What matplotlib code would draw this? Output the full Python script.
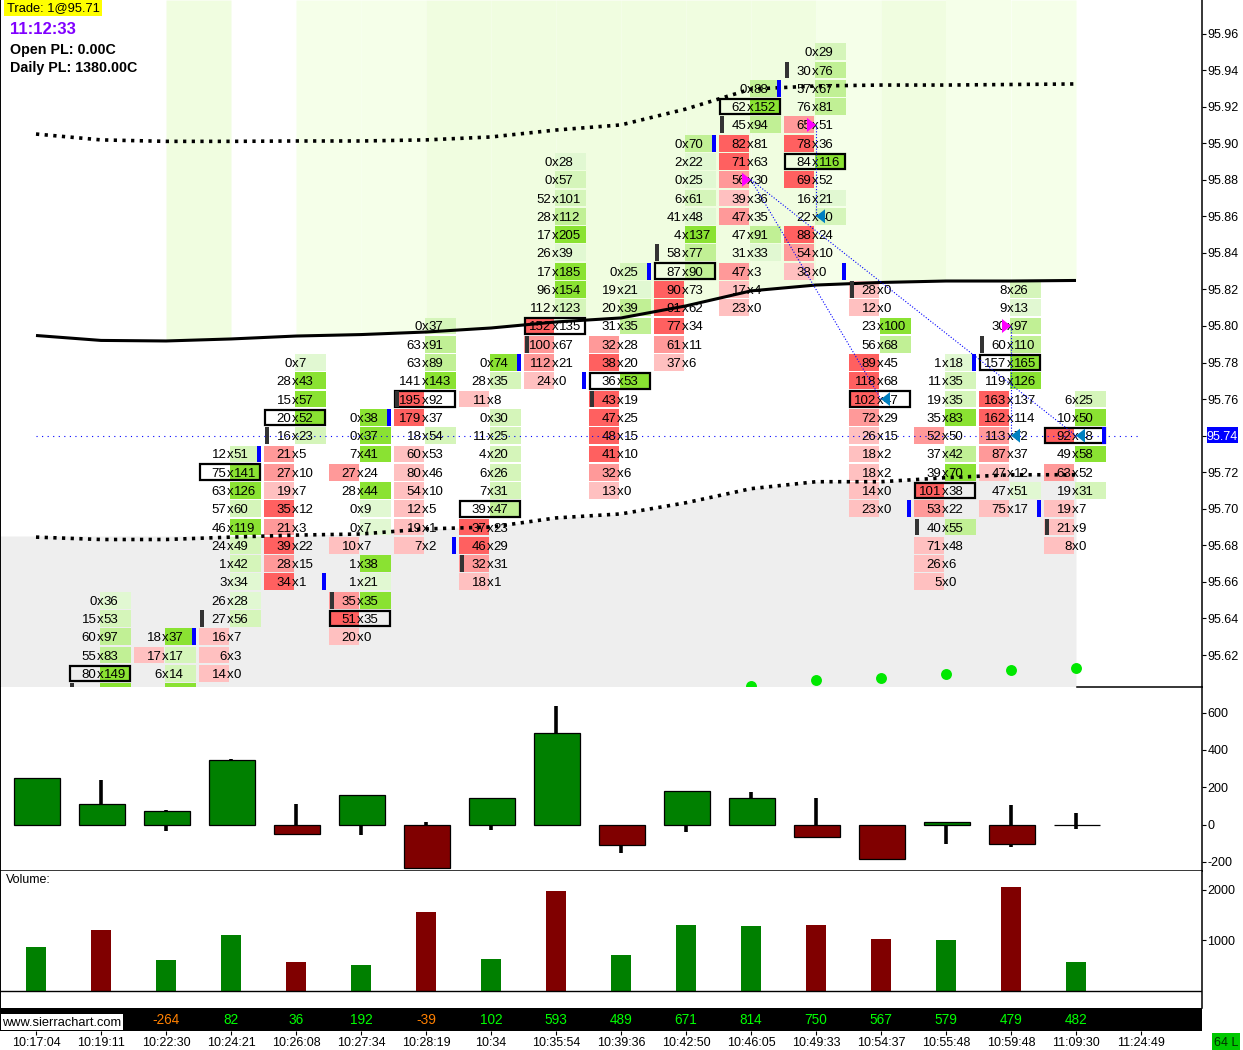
import numpy as np
import matplotlib
matplotlib.use("Agg")
import matplotlib.pyplot as plt
from matplotlib.patches import Rectangle, Polygon

plt.rcParams['font.family'] = ['Liberation Sans', 'DejaVu Sans']
plt.rcParams['axes.unicode_minus'] = False

# ---------- data ----------
times = ['10:17:04','10:19:11','10:22:30','10:24:21','10:26:08','10:27:34','10:28:19','10:34','10:35:54',
         '10:39:36','10:42:50','10:46:05','10:49:33','10:54:37','10:55:48','10:59:48','11:09:30','11:24:49']
price_ticks = [95.96,95.94,95.92,95.90,95.88,95.86,95.84,95.82,95.80,95.78,95.76,95.74,95.72,95.70,95.68,95.66,95.64,95.62]

top_price = {1:95.65,2:95.63,3:95.73,4:95.78,5:95.75,6:95.80,7:95.78,8:95.89,9:95.83,10:95.90,11:95.93,12:95.95,13:95.82,14:95.78,15:95.82,16:95.76}
bid_1=[0,15,60,55,80,60];  ask_1=[36,53,97,83,149,143]
bid_2=[18,17,6,3];  ask_2=[37,17,14,62]
bid_3=[12,75,63,57,46,24,1,3,26,27,16,6,14];  ask_3=[51,141,126,60,119,49,42,34,28,56,7,3,0]
bid_4=[0,28,15,20,16,21,27,19,35,21,39,28,34];  ask_4=[7,43,57,52,23,5,10,7,12,3,22,15,1]
bid_5=[0,0,7,27,28,0,0,10,1,1,35,51,20];  ask_5=[38,37,41,24,44,9,7,7,38,21,35,35,0]
bid_6=[0,63,63,141,195,179,18,60,80,54,12,19,7];  ask_6=[37,91,89,143,92,37,54,53,46,10,5,1,2]
bid_7=[0,28,11,0,11,4,6,7,39,37,46,32,18];  ask_7=[74,35,8,30,25,20,26,31,47,23,29,31,1]
bid_8=[0,0,52,28,17,26,17,96,112,152,100,112,24];  ask_8=[28,57,101,112,205,39,185,154,123,135,67,21,0]
bid_9=[0,19,20,31,32,38,36,43,47,48,41,32,13];  ask_9=[25,21,39,35,28,20,53,19,25,15,10,6,0]
bid_10=[0,2,0,6,41,4,58,87,90,91,77,61,37];  ask_10=[70,22,25,61,48,137,77,90,73,62,34,11,6]
bid_11=[0,62,45,82,71,56,39,47,47,31,47,17,23];  ask_11=[88,152,94,81,63,30,36,35,91,33,3,4,0]
bid_12=[0,30,57,76,65,78,84,69,16,22,88,54,38];  ask_12=[29,76,67,81,51,36,116,52,21,40,24,10,0]
bid_13=[28,12,23,56,89,118,102,72,26,18,18,14,23];  ask_13=[0,0,100,68,45,68,47,29,15,2,2,0,0]
bid_14=[1,11,19,35,52,37,39,101,53,40,71,26,5];  ask_14=[18,35,35,83,50,42,70,38,22,55,48,6,0]
bid_15=[8,9,30,60,157,119,163,162,113,87,47,47,75];  ask_15=[26,13,97,110,165,126,137,114,72,37,12,51,17]
bid_16=[6,10,92,49,63,19,19,21,8];  ask_16=[25,50,48,58,52,31,7,9,0]
bids = {1:bid_1,2:bid_2,3:bid_3,4:bid_4,5:bid_5,6:bid_6,7:bid_7,8:bid_8,9:bid_9,10:bid_10,11:bid_11,12:bid_12,13:bid_13,14:bid_14,15:bid_15,16:bid_16}
asks = {1:ask_1,2:ask_2,3:ask_3,4:ask_4,5:ask_5,6:ask_6,7:ask_7,8:ask_8,9:ask_9,10:ask_10,11:ask_11,12:ask_12,13:ask_13,14:ask_14,15:ask_15,16:ask_16}

# cell intensity classes (r = bid side, g = ask side)
shades = {
 1:'g1 g2 g3 g3 g4 g4'.split(),
 2:'g4 r1g2 g2 g4'.split(),
 3:'g2 g4 g4 g2 g4 g2 g2 g1 g1 g2 r1 r1 r1'.split(),
 4:'g1 g4 g4 g4 g2 r2 r2 r1 r3 r2 r3 r2 r3'.split(),
 5:'g4 g4 g4 r2 g4 g1 g1 r1 g4 g1 r2g4 r3 r1'.split(),
 6:'g2 g3 g3 g4 r3 r3 g2 r1 r1 r1 r1 r1 r1'.split(),
 7:'g4 g2 r1 g2 g2 g2 g2 g2 g3 r3 r3 r2 r1'.split(),
 8:'g1 g2 g2 g3 g4 g1 g4 g4 g2 r3 r2 r2 r1'.split(),
 9:'g2 g1 g3 g3 r2 r3 g4 r3 r3 r3 r3 r2 r1'.split(),
 10:'g3 g1 g1 g2 g1 g4 g3 g3 r3 r3 r3 r2 r1'.split(),
 11:'g3 g4 g3 r3 r3 r2 r1 r2 g3 g1 r2 r1 r1'.split(),
 12:'g2 g3 g3 g3 r2 r3 g4 r3 g1 g2 r3 r2 r1'.split(),
 13:'r1 r1 g4 g3 r3 r3 r3 r2 r1 r1 r1 r1 r1'.split(),
 14:'g1 g2 g2 g4 r2 g3 g4 r3 r2 g3 r1 r1 r1'.split(),
 15:'g2 g1 g3 g3 g4 g4 r3 r3 r2 r2 r1 g1 r1'.split(),
 16:'g2 g4 r3 g4 r2 g2 r1 r1 r1'.split(),
}
box_price = {1:95.61,3:95.72,4:95.75,5:95.64,6:95.76,7:95.70,8:95.80,9:95.77,10:95.83,11:95.92,12:95.89,13:95.76,14:95.71,15:95.78,16:95.74}
open_price = {1:95.60,3:95.64,4:95.74,5:95.65,6:95.76,7:95.67,8:95.79,9:95.76,10:95.84,11:95.91,12:95.94,13:95.82,14:95.69,15:95.79,16:95.69}
close_price = {2:95.63,3:95.73,4:95.66,5:95.75,6:95.68,7:95.78,8:95.77,9:95.83,10:95.90,11:95.93,12:95.83,13:95.70,14:95.78,15:95.70,16:95.74}

line_mid = [95.7948,95.7921,95.7918,95.7929,95.7945,95.7953,95.7967,95.7989,95.8022,95.8044,95.8110,95.8192,95.8224,95.8238,95.8246,95.8246,95.8249]
line_up  = [95.9050,95.9018,95.9010,95.9010,95.9012,95.9012,95.9018,95.9034,95.9072,95.9100,95.9187,95.9296,95.9313,95.9318,95.9318,95.9321,95.9324]
line_low = [95.6845,95.6832,95.6832,95.6845,95.6856,95.6862,95.6890,95.6900,95.6950,95.6972,95.7033,95.7110,95.7148,95.7148,95.7170,95.7186,95.7186]
grey_floor = 95.6851
band_shade = [0,0,2,0,1,1,2,2,2,2,2,2,1,2,1,1]
dot_bars = [11,12,13,14,15,16]
dot_price = [95.603,95.6063,95.6074,95.6096,95.6118,95.6129]
sell_marks = [(11,95.88),(12,95.91),(15,95.80)]
buy_marks = [(12,95.86),(13,95.76),(15,95.74),(16,95.74)]
links = [((11,95.88),(13,95.76)),((11,95.88),(16,95.74)),((12,95.91),(12,95.86)),((15,95.80),(15,95.74))]
last_price = 95.74

body = [248,108,71,344,-49,156,-231,140,489,-108,178,140,-65,-183,12,-103,0]
wick_hi = [248,238,78,351,110,156,12,140,635,0,178,175,142,0,12,105,60]
wick_lo = [-6,0,-33,0,-49,-56,-231,-29,0,-154,-40,0,-65,-183,-103,-119,-22]
volume = [880,1210,614,1110,574,515,1564,634,1980,713,1307,1287,1307,1030,1010,2059,574]
vol_up = [1,0,1,1,0,1,0,1,0,1,1,1,0,0,1,0,1]
delta_labels = {2:'-264',3:'82',4:'36',5:'192',6:'-39',7:'102',8:'593',9:'489',10:'671',11:'814',12:'750',13:'567',14:'579',15:'479',16:'482'}
candle_ticks = [600,400,200,0,-200]
volume_ticks = [2000,1000]

# ---------- styles ----------
GREENS = {'1':'#e1f8d2','2':'#d5f5ba','3':'#c1f095','4':'#8ae232'}
REDS = {'1':'#ffc0c0','2':'#ff9999','3':'#ff6060'}
BANDS = {1:'#f5ffe9',2:'#f0fde0'}
W, H = 1243, 1050
X0, STEP = 36.0, 65.0
PX = 1/STEP
PY = 1/1828.0

fig = plt.figure(figsize=(W/100, H/100), dpi=100, facecolor='white')

def pane(top, bottom):
    return fig.add_axes([0, 1-bottom/H, 1202/W, (bottom-top)/H])

xlim = ((0-X0)/STEP, (1202-X0)/STEP)
def price_at(y):
    return 95.96-(y-33.5)*PY

# ---- main pane ----
ax = pane(0, 686.5)
ax.set_xlim(*xlim)
ax.set_ylim(price_at(686.5), price_at(0))
ymax = price_at(0)
ymin = price_at(686.5)

for i, s in enumerate(band_shade):
    if s:
        ax.fill_between([i, i+1], [line_mid[i], line_mid[i+1]], ymax, color=BANDS[s], lw=0, zorder=1, antialiased=False)
xg = np.array([xlim[0]] + list(range(17)))
yg = np.maximum(np.array([line_low[0]] + line_low), grey_floor)
ax.fill_between(xg, ymin, yg, color='#eeeeee', lw=0, zorder=1, antialiased=False)

row_h = 16.8*PY
for b in bids:
    for k, (bv, av_, sh) in enumerate(zip(bids[b], asks[b], shades[b])):
        p = round(top_price[b]-k*0.01, 2)
        for j in range(0, len(sh), 2):
            side, lvl = sh[j], sh[j+1]
            if side == 'r':
                ax.add_patch(Rectangle((b-32*PX, p-row_h/2), 30*PX, row_h, fc=REDS[lvl], lw=0, zorder=2))
            else:
                ax.add_patch(Rectangle((b-1*PX, p-row_h/2), 31*PX, row_h, fc=GREENS[lvl], lw=0, zorder=2))
        kw = dict(fontsize=9.5, va='center_baseline', zorder=6, clip_on=True, color='#000000')
        ax.text(b-4.5*PX, p, str(bv), ha='right', **kw)
        ax.text(b-1*PX, p, 'x', ha='center', **kw)
        ax.text(b+2.5*PX, p, str(av_), ha='left', **kw)

for b, p in box_price.items():
    ax.add_patch(Rectangle((b-31*PX, p-15.5*PY/2), 60*PX, 15.5*PY, fc='none', ec='black', lw=1.6, zorder=4))
for b, p in open_price.items():
    ax.add_patch(Rectangle((b-31*PX, p-row_h/2), 4*PX, row_h, fc='#333333', lw=0, zorder=5))
for b, p in close_price.items():
    ax.add_patch(Rectangle((b+26*PX, p-row_h/2), 4*PX, row_h, fc='#0000ff', lw=0, zorder=5))

xs = np.arange(17)
ax.plot(xs, line_mid, color='black', lw=2.2, zorder=3, solid_capstyle='butt')
for ln in (line_up, line_low):
    ax.plot(xs, ln, color='black', lw=2.6, ls=(0, (0.9, 1.5)), zorder=3)
ax.plot([0, 17], [last_price, last_price], color='#0000ff', lw=0.8, ls=(0, (1, 4)), zorder=7)
for (a, b) in links:
    ax.plot([a[0], b[0]], [a[1], b[1]], color='#0000ff', lw=0.8, ls=(0, (1, 1.6)), zorder=7)
for b, p in sell_marks:
    ax.add_patch(Polygon([(b, p), (b-9*PX, p-7*PY), (b-9*PX, p+7*PY)], fc='#ff00ff', lw=0, zorder=8))
for b, p in buy_marks:
    ax.add_patch(Polygon([(b, p), (b+9*PX, p-7*PY), (b+9*PX, p+7*PY)], fc='#0080c0', lw=0, zorder=8))
ax.scatter(dot_bars, dot_price, s=62, color='#00e800', lw=0, zorder=8)

ax.yaxis.tick_right()
ax.set_yticks(price_ticks)
ax.set_yticklabels(['%.2f' % t for t in price_ticks], fontsize=9)
ax.set_xticks([])
ax.tick_params(axis='y', length=3, width=0.8, pad=0.8, color='black')
for sp in ('top', 'bottom'):
    ax.spines[sp].set_visible(False)
ax.spines['left'].set_linewidth(1.4)
ax.spines['right'].set_linewidth(1.1)
ax.patch.set_alpha(0)

# ---- delta candle pane ----
ac = pane(686.5, 870.5)
ac.set_xlim(*xlim)
ac.set_ylim((824.5-870.5)*5.36, (824.5-686.5)*5.36)
ac.vlines(xs, wick_lo, wick_hi, color='black', lw=2.6, zorder=2)
ac.bar(xs+1*PX, body, width=46*PX, color=['#008000' if v > 0 else '#800000' for v in body],
       edgecolor='black', lw=0.9, zorder=3)
ac.yaxis.tick_right()
ac.set_yticks(candle_ticks)
ac.set_yticklabels([str(t) for t in candle_ticks], fontsize=9)
ac.set_xticks([])
ac.tick_params(axis='y', length=3, width=0.8, pad=0.8)
ac.spines['top'].set_visible(False)
ac.spines['bottom'].set_linewidth(1.1)
ac.spines['left'].set_linewidth(1.4)
ac.spines['right'].set_linewidth(1.1)

# ---- volume pane ----
av = pane(870.5, 1008)
av.set_xlim(*xlim)
av.set_ylim((991-1008)*19.8, (991-870.5)*19.8)
av.bar(xs, volume, width=20*PX, color=['#008000' if u else '#800000' for u in vol_up], lw=0, zorder=2)
av.axhline(0, color='black', lw=1.0, zorder=3)
av.yaxis.tick_right()
av.set_yticks(volume_ticks)
av.set_yticklabels([str(t) for t in volume_ticks], fontsize=9)
av.set_xticks([])
av.tick_params(axis='y', length=3, width=0.8, pad=0.8)
av.spines['top'].set_visible(False)
av.spines['bottom'].set_visible(False)
av.spines['left'].set_linewidth(1.4)
av.spines['right'].set_linewidth(1.1)
av.text(0.005, 0.93, 'Volume:', transform=av.transAxes, fontsize=9, va='center', ha='left')

# ---- bottom strip ----
ab = pane(1008, 1030.5)
ab.set_xlim(*xlim)
ab.set_ylim(0, 1)
ab.set_facecolor('black')
ab.set_yticks([])
ab.set_xticks(np.arange(len(times)))
ab.set_xticklabels(times, fontsize=9)
ab.tick_params(axis='x', length=3, width=0.8, pad=2)
for sp in ab.spines.values():
    sp.set_visible(False)
for b, t in delta_labels.items():
    ab.text(b, 0.52, t, color='#ff8000' if t.startswith('-') else '#00ff00', fontsize=9.8,
            ha='center', va='center_baseline')

# ---- overlay texts ----
ov = fig.add_axes([0, 0, 1, 1])
ov.set_xlim(0, W)
ov.set_ylim(H, 0)
ov.axis('off')
ov.patch.set_alpha(0)
ov.add_patch(Rectangle((4, 0), 98, 16, fc='#ffff00', lw=0))
ov.text(7, 8, 'Trade: 1@95.71', fontsize=9.3, va='center', ha='left')
ov.text(10, 30, '11:12:33', fontsize=12, color='#8000ff', va='center', ha='left', fontweight='bold')
ov.text(10, 50, 'Open PL: 0.00C', fontsize=10.3, va='center', ha='left', fontweight='bold')
ov.text(10, 68, 'Daily PL: 1380.00C', fontsize=10.3, va='center', ha='left', fontweight='bold')
ov.add_patch(Rectangle((1207, 427), 31, 16, fc='#0000ff', lw=0))
ov.text(1222.5, 435, '%.2f' % last_price, fontsize=9, color='white', va='center_baseline', ha='center')
ov.add_patch(Rectangle((1212, 1033), 28, 17, fc='#00c800', lw=0))
ov.text(1226, 1041.5, '64 L', fontsize=9, color='#003000', va='center_baseline', ha='center')
ov.add_patch(Rectangle((1, 1014), 122, 16, fc='white', lw=0))
ov.text(2, 1021.5, 'www.sierrachart.com', fontsize=9.3, color='black', ha='left', va='center_baseline')
ov.plot([1077, 1202], [686.5, 686.5], color='black', lw=1.1)

fig.savefig('out.png', dpi=100, facecolor='white')
